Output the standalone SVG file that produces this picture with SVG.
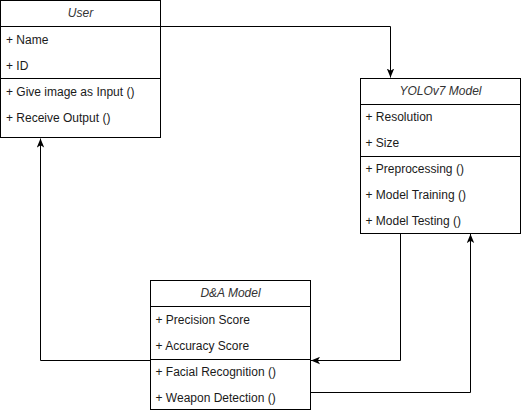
<svg xmlns="http://www.w3.org/2000/svg" width="522" height="414" viewBox="0 0 522 414">
<style>
.box{fill:#fff;stroke:#000;stroke-width:1}
.sep{stroke:#000;stroke-width:1}
.hd{font-family:"Liberation Sans",Arial,sans-serif;font-size:12px;font-style:italic;fill:#333;text-anchor:middle}
.tx{font-family:"Liberation Sans",Arial,sans-serif;font-size:12px;fill:#1a1a1a}
.edge{fill:none;stroke:#000;stroke-width:1}
</style>
<defs>
<marker id="arr" markerUnits="userSpaceOnUse" markerWidth="9" markerHeight="8" viewBox="0 0 9 8" refX="9" refY="4" orient="auto">
<path d="M0,0.3 L9,4 L0,7.7 L2.2,4 z" fill="#000"/>
</marker>
</defs>
<rect width="522" height="414" fill="#fff"/>
<g id="connectors">
<path class="edge" d="M160.5,26.5 H390.5 V77.5" marker-end="url(#arr)"/>
<path class="edge" d="M400.5,233.5 V360.5 H311" marker-end="url(#arr)"/>
<path class="edge" d="M310.5,392.5 H470.5 V234" marker-end="url(#arr)"/>
<path class="edge" d="M150.5,360.5 H40.5 V138.5" marker-end="url(#arr)"/>
</g>
<g id="user">
<rect class="box" x="0.5" y="0.5" width="160" height="137"/>
<line class="sep" x1="0.5" y1="26.5" x2="160.5" y2="26.5"/>
<line class="sep" x1="0.5" y1="78.5" x2="160.5" y2="78.5"/>
<text class="hd" x="80.5" y="17">User</text>
<text class="tx" x="6" y="44">+ Name</text>
<text class="tx" x="6" y="69.5">+ ID</text>
<text class="tx" x="6" y="96">+ Give image as Input ()</text>
<text class="tx" x="6" y="122">+ Receive Output ()</text>
</g>
<g id="yolov7">
<rect class="box" x="360.5" y="78.5" width="160" height="155"/>
<line class="sep" x1="360.5" y1="104.5" x2="520.5" y2="104.5"/>
<line class="sep" x1="360.5" y1="156.5" x2="520.5" y2="156.5"/>
<text class="hd" x="440.5" y="95">YOLOv7 Model</text>
<text class="tx" x="365.5" y="121">+ Resolution</text>
<text class="tx" x="365.5" y="147">+ Size</text>
<text class="tx" x="365.5" y="173">+ Preprocessing ()</text>
<text class="tx" x="365.5" y="199">+ Model Training ()</text>
<text class="tx" x="365.5" y="225">+ Model Testing ()</text>
</g>
<g id="da">
<rect class="box" x="150.5" y="280.5" width="160" height="129"/>
<line class="sep" x1="150.5" y1="306.5" x2="310.5" y2="306.5"/>
<line class="sep" x1="150.5" y1="359.5" x2="310.5" y2="359.5"/>
<text class="hd" x="230.5" y="297">D&amp;A Model</text>
<text class="tx" x="155.5" y="324">+ Precision Score</text>
<text class="tx" x="155.5" y="350">+ Accuracy Score</text>
<text class="tx" x="155.5" y="376">+ Facial Recognition ()</text>
<text class="tx" x="155.5" y="402">+ Weapon Detection ()</text>
</g>
</svg>
